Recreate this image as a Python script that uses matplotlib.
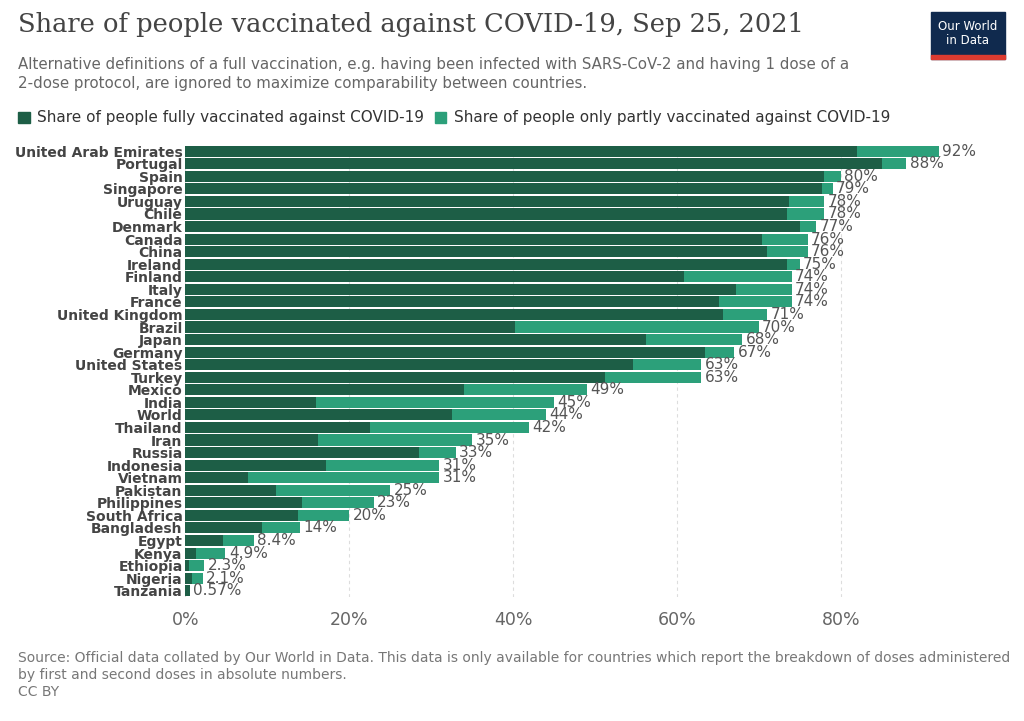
import numpy as np
import matplotlib.pyplot as plt

countries = ["United Arab Emirates", "Portugal", "Spain", "Singapore", "Uruguay", "Chile",
             "Denmark", "Canada", "China", "Ireland", "Finland", "Italy", "France",
             "United Kingdom", "Brazil", "Japan", "Germany", "United States", "Turkey",
             "Mexico", "India", "World", "Thailand", "Iran", "Russia", "Indonesia",
             "Vietnam", "Pakistan", "Philippines", "South Africa", "Bangladesh", "Egypt",
             "Kenya", "Ethiopia", "Nigeria", "Tanzania"]
full = [82.0, 85.0, 78.0, 77.7, 73.7, 73.5, 75.0, 70.4, 71.0, 73.4, 60.9, 67.2, 65.1,
        65.6, 40.2, 56.2, 63.4, 54.6, 51.2, 34.0, 15.9, 32.6, 22.6, 16.2, 28.5, 17.2,
        7.6, 11.1, 14.3, 13.7, 9.4, 4.6, 1.3, 0.5, 0.8, 0.57]
total = [92, 88, 80, 79, 78, 78, 77, 76, 76, 75, 74, 74, 74, 71, 70, 68, 67, 63, 63,
         49, 45, 44, 42, 35, 33, 31, 31, 25, 23, 20, 14, 8.4, 4.9, 2.3, 2.1, 0.57]
labels = ["92%", "88%", "80%", "79%", "78%", "78%", "77%", "76%", "76%", "75%", "74%",
          "74%", "74%", "71%", "70%", "68%", "67%", "63%", "63%", "49%", "45%", "44%",
          "42%", "35%", "33%", "31%", "31%", "25%", "23%", "20%", "14%", "8.4%", "4.9%",
          "2.3%", "2.1%", "0.57%"]

dark = "#1d5e46"
light = "#2ca07a"

fig = plt.figure(figsize=(10.24, 7.21), dpi=100)
ax = fig.add_axes([0.181, 0.172, 0.76, 0.627])

y = np.arange(len(countries))
partial = np.array(total) - np.array(full)
ax.barh(y, full, height=0.88, color=dark, zorder=2)
ax.barh(y, partial, left=full, height=0.88, color=light, zorder=2)
for yi, t, lab in zip(y, total, labels):
    ax.text(t + 0.4, yi, lab, va="center", ha="left", fontsize=11, color="#555555")

ax.set_yticks(y)
ax.set_yticklabels(countries, fontsize=10, fontweight="bold", color="#444444")
ax.set_ylim(len(countries) - 0.5, -0.5)
ax.set_xlim(0, 95)
ax.set_xticks([0, 20, 40, 60, 80])
ax.set_xticklabels(["0%", "20%", "40%", "60%", "80%"], fontsize=12.5, color="#666666")
ax.tick_params(axis="both", length=0, pad=2)
ax.tick_params(axis="x", pad=10)
ax.grid(axis="x", linestyle=(0, (3, 3)), color="#dddddd", zorder=0)
for s in ax.spines.values():
    s.set_visible(False)

fig.text(0.018, 0.955, "Share of people vaccinated against COVID-19, Sep 25, 2021",
         fontsize=18.5, family="DejaVu Serif", color="#444444")
fig.text(0.018, 0.878, "Alternative definitions of a full vaccination, e.g. having been infected with SARS-CoV-2 and having 1 dose of a\n2-dose protocol, are ignored to maximize comparability between countries.",
         fontsize=10.8, color="#666666", linespacing=1.3)

fig.patches.append(plt.Rectangle((0.018, 0.829), 0.011, 0.016, color=dark, transform=fig.transFigure))
fig.text(0.036, 0.837, "Share of people fully vaccinated against COVID-19", fontsize=11,
         color="#333333", va="center")
fig.patches.append(plt.Rectangle((0.425, 0.829), 0.011, 0.016, color=light, transform=fig.transFigure))
fig.text(0.443, 0.837, "Share of people only partly vaccinated against COVID-19", fontsize=11,
         color="#333333", va="center")

fig.patches.append(plt.Rectangle((0.909, 0.918), 0.072, 0.065, color="#102a4e", transform=fig.transFigure))
fig.patches.append(plt.Rectangle((0.909, 0.918), 0.072, 0.006, color="#dc3b30", transform=fig.transFigure))
fig.text(0.945, 0.953, "Our World\nin Data", fontsize=8.5, color="white", ha="center",
         va="center", linespacing=1.1)

fig.text(0.018, 0.035, "Source: Official data collated by Our World in Data. This data is only available for countries which report the breakdown of doses administered\nby first and second doses in absolute numbers.\nCC BY",
         fontsize=10, color="#777777", linespacing=1.25)

fig.savefig("out.png")
